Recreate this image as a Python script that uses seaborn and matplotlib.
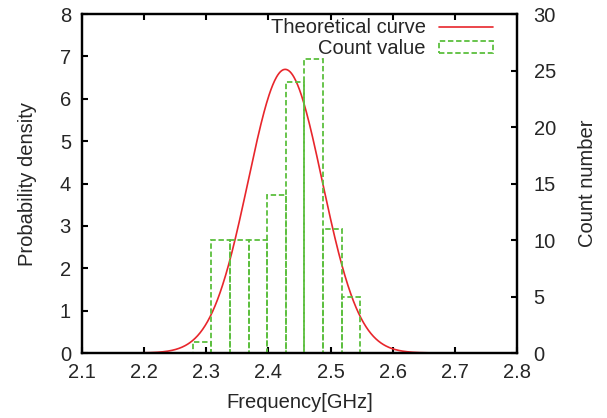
import numpy as np
import pandas as pd
import matplotlib
matplotlib.use("Agg")
import matplotlib.pyplot as plt
import seaborn as sns
from matplotlib.lines import Line2D
from matplotlib.patches import Rectangle

# ---- data ----
bin_edges = [2.278, 2.308, 2.338, 2.368, 2.398, 2.428, 2.458, 2.488, 2.518, 2.548]
bin_counts = [1, 10, 10, 10, 14, 24, 26, 11, 5]
curve_mean = 2.427      # GHz, theoretical normal curve
curve_sigma = 0.0596    # GHz
x_ticks = [2.1, 2.2, 2.3, 2.4, 2.5, 2.6, 2.7, 2.8]
y_ticks = [0, 1, 2, 3, 4, 5, 6, 7, 8]
y2_ticks = [0, 5, 10, 15, 20, 25, 30]

sns.set_theme(style="white")
plt.rcParams['font.family'] = ['Liberation Sans', 'DejaVu Sans']

RED = "#e8262c"
GREEN = "#5cbf3e"
FS = 14.5
DASH = (0, (3, 1.5))

fig = plt.figure(figsize=(6.07, 4.18), dpi=100)
ax = fig.add_axes([0.1351, 0.1555, 0.8517 - 0.1351, 0.9665 - 0.1555])
ax2 = ax.twinx()

# theoretical curve (normal pdf)
xs = np.linspace(2.1, 2.8, 701)
ys = np.exp(-0.5 * ((xs - curve_mean) / curve_sigma) ** 2) / (curve_sigma * np.sqrt(2 * np.pi))
curve_df = pd.DataFrame({"f": xs, "pdf": ys})
sns.lineplot(data=curve_df, x="f", y="pdf", ax=ax, color=RED, linewidth=1.2, zorder=2)

# histogram of counts
centers = [(a + b) / 2 for a, b in zip(bin_edges[:-1], bin_edges[1:])]
hist_df = pd.DataFrame({"f": centers, "count": bin_counts})
sns.histplot(data=hist_df, x="f", weights="count", bins=bin_edges, ax=ax2,
             fill=False, element="bars", color=GREEN, linewidth=1.3,
             linestyle=DASH, zorder=2)

ax.set_xlim(2.1, 2.8)
ax.set_ylim(0, 8)
ax2.set_ylim(0, 30)
ax.set_xticks(x_ticks)
ax.set_xticklabels([f"{v:.1f}" for v in x_ticks], fontsize=FS)
ax.set_yticks(y_ticks)
ax.set_yticklabels([str(v) for v in y_ticks], fontsize=FS)
ax2.set_yticks(y2_ticks)
ax2.set_yticklabels([str(v) for v in y2_ticks], fontsize=FS)

ax.set_xlabel("Frequency[GHz]", fontsize=FS, labelpad=8)
ax.set_ylabel("Probability density", fontsize=FS, labelpad=16)
ax2.set_ylabel("Count number", fontsize=FS, labelpad=16)

for a in (ax, ax2):
    for s in a.spines.values():
        s.set_linewidth(1.6)
        s.set_color("black")
        s.set_zorder(3)
    a.set_facecolor("none")
ax.tick_params(axis="x", which="both", direction="in", top=True, bottom=True,
               length=4, width=1.5, color="black", pad=7)
ax.tick_params(axis="y", direction="in", left=True, right=False,
               length=4, width=1.5, color="black", pad=8)
ax2.tick_params(axis="y", direction="in", left=False, right=True,
                length=4, width=1.5, color="black", pad=12)
ax2.tick_params(axis="x", top=False, bottom=False)
ax2.set_xlabel("")

handles = [Line2D([0], [0], color=RED, linewidth=1.2),
           Rectangle((0, 0), 1, 1, fill=False, edgecolor=GREEN, linewidth=1.3,
                     linestyle=DASH)]
ax2.legend(handles, ["Theoretical curve", "Count value"], loc="upper right",
           frameon=False, markerfirst=False, fontsize=FS, handlelength=2.7,
           handleheight=0.5, handletextpad=0.65, labelspacing=0.1,
           borderaxespad=0.0, bbox_to_anchor=(0.964, 1.012))

fig.savefig("out.png", dpi=100)
